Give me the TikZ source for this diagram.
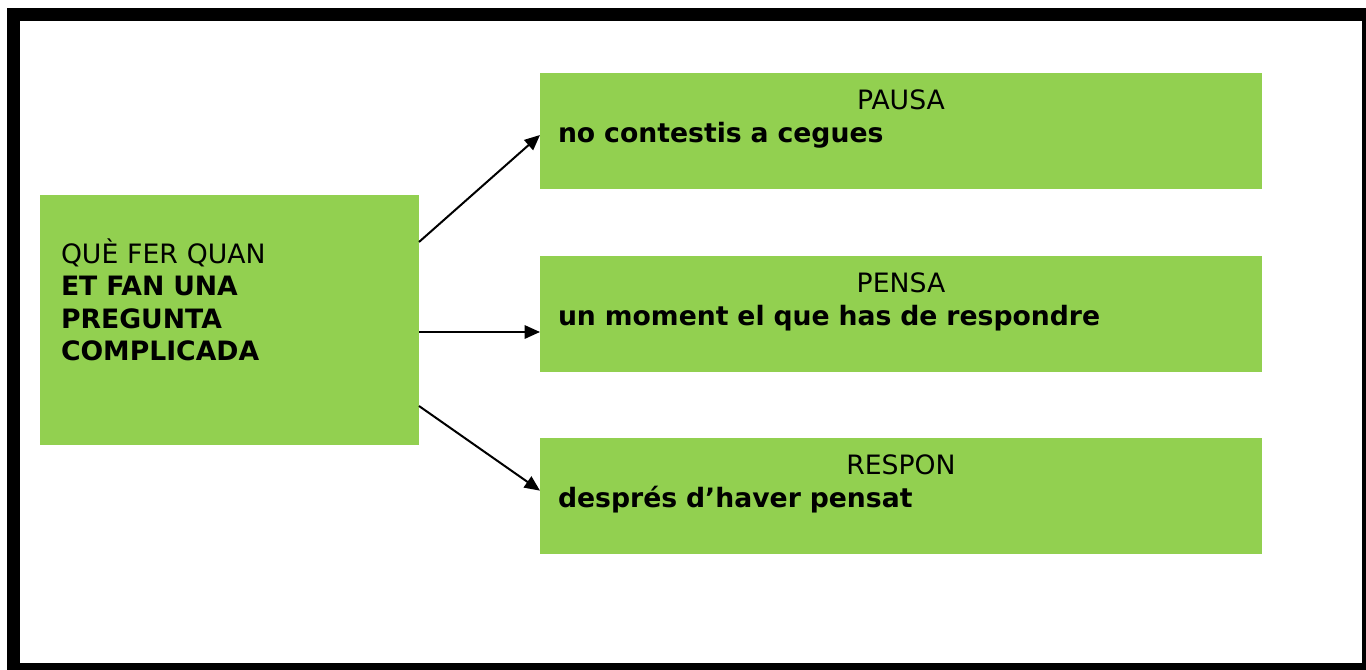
\documentclass[tikz,border=0pt]{standalone}
\usepackage{fontspec}
\setsansfont{DejaVu Sans}
\usepackage{xcolor}
\usetikzlibrary{calc}
\usetikzlibrary{positioning}
\usetikzlibrary{arrows.meta}
\definecolor{boxgreen}{HTML}{92D050}

\begin{document}
\begin{tikzpicture}[x=0.75pt, y=-0.75pt, ->, >={Triangle[length=11.5pt,width=10pt]}, line width=1.5pt, font=\sffamily\fontsize{20pt}{24.4pt}\selectfont]
		\tikzstyle{bigblock}=[fill=boxgreen, anchor=north west, outer sep=0pt, inner xsep=15.75pt, inner ysep=0pt, text width=252.75pt, text height=51pt, text depth=136.5pt, align=left]
		\tikzstyle{block}=[fill=boxgreen, anchor=north west, outer sep=0pt, inner xsep=13.5pt, inner ysep=0pt, text width=514.5pt, text height=27.75pt, text depth=59.25pt, align=left]
		
		\useasboundingbox (0,0) rectangle (1366,670);
		\fill[-, black] (7,8) rectangle (1366,670);
		\fill[-, white] (20,21) rectangle (1362,663);
		
		\node[bigblock] (pregunta) at (40,195) {QUÈ FER QUAN\\ \textbf{ET FAN UNA}\\ \textbf{PREGUNTA}\\ \textbf{COMPLICADA}};
		\node[block] (pausa) at (540,73) {\makebox[\hsize]{PAUSA}\\ \textbf{no contestis a cegues}};
		\node[block, below=50pt of pausa] (pensa) {\makebox[\hsize]{PENSA}\\ \textbf{un moment el que has de respondre}};
		\node[block, below=49.5pt of pensa] (respon) {\makebox[\hsize]{RESPON}\\ \textbf{després d’haver pensat}};
		
		\coordinate (q1) at ($(pregunta.north east)+(0,47)$);
		\coordinate (q2) at ($(pregunta.north east)+(0,137)$);
		\coordinate (q3) at ($(pregunta.north east)+(0,211)$);
		
		\path (q1) edge ($(pausa.north west)+(0,62)$);
		\path (q2) edge (q2 -| pensa.west);
		\path (q3) edge ($(respon.north west)+(0,53)$);
		\end{tikzpicture}
\end{document}
